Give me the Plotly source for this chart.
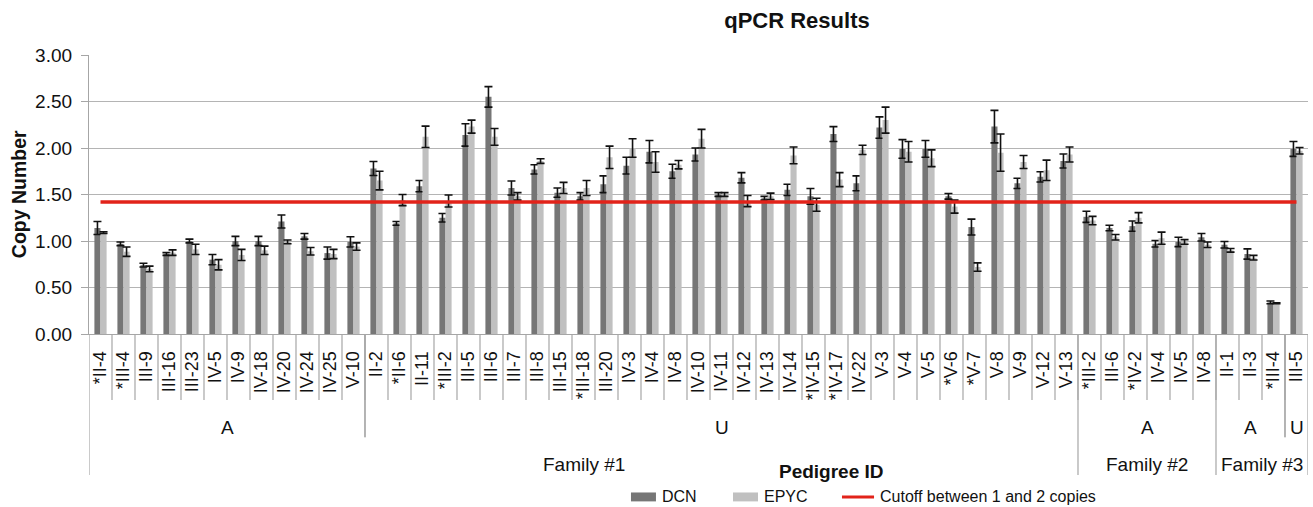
import plotly.graph_objects as go

# Pedigree IDs in plotting order
ids = [
    "*II-4", "*III-4", "III-9", "III-16", "III-23", "IV-5", "IV-9", "IV-18", "IV-20", "IV-24", "IV-25", "V-10",
    "II-2", "*II-6", "II-11", "*III-2", "III-5", "III-6", "III-7", "III-8", "III-15", "*III-18", "III-20",
    "IV-3", "IV-4", "IV-8", "IV-10", "IV-11", "IV-12", "IV-13", "IV-14", "*IV-15", "*IV-17", "IV-22",
    "V-3", "V-4", "V-5", "*V-6", "*V-7", "V-8", "V-9", "V-12", "V-13",
    "*III-2", "III-6", "*IV-2", "IV-4", "IV-5", "IV-8",
    "II-1", "II-3", "*III-4", "III-5",
]

# Affected / unaffected status and family membership of each ID
status = ["A"] * 12 + ["U"] * 31 + ["A"] * 6 + ["A"] * 3 + ["U"] * 1
family = ["Family #1"] * 43 + ["Family #2"] * 6 + ["Family #3"] * 4

# Copy number estimates and error bars
dcn = [
    1.14, 0.97, 0.74, 0.86, 1.00, 0.80, 1.00, 1.00, 1.21, 1.05, 0.87, 0.99,
    1.78, 1.19, 1.59, 1.25, 2.14, 2.55, 1.57, 1.77, 1.52, 1.48, 1.61, 1.81, 1.96, 1.75, 1.93, 1.50,
    1.68, 1.46, 1.55, 1.48, 2.15, 1.62, 2.22, 1.99, 1.99, 1.48, 1.15, 2.23, 1.62, 1.69, 1.86,
    1.26, 1.14, 1.16, 0.97, 0.99, 1.04,
    0.96, 0.86, 0.34, 1.99,
]
dcn_err = [
    0.07, 0.02, 0.02, 0.015, 0.02, 0.055, 0.05, 0.05, 0.07, 0.03, 0.065, 0.055,
    0.075, 0.02, 0.06, 0.045, 0.12, 0.11, 0.075, 0.05, 0.05, 0.04, 0.09, 0.09, 0.12, 0.075, 0.07, 0.02,
    0.055, 0.02, 0.06, 0.085, 0.08, 0.08, 0.115, 0.10, 0.09, 0.03, 0.085, 0.175, 0.055, 0.055, 0.075,
    0.06, 0.03, 0.055, 0.035, 0.05, 0.04,
    0.035, 0.055, 0.015, 0.08,
]
epyc = [
    1.09, 0.885, 0.70, 0.875, 0.91, 0.745, 0.85, 0.90, 0.99, 0.89, 0.86, 0.94,
    1.65, 1.44, 2.12, 1.43, 2.23, 2.12, 1.48, 1.86, 1.57, 1.57, 1.90, 2.00, 1.85, 1.82, 2.10, 1.50,
    1.43, 1.48, 1.92, 1.39, 1.66, 1.98, 2.30, 1.96, 1.89, 1.37, 0.72, 1.95, 1.85, 1.76, 1.93,
    1.22, 1.04, 1.25, 1.03, 0.99, 0.96,
    0.90, 0.82, 0.33, 1.97,
]
epyc_err = [
    0.01, 0.05, 0.03, 0.03, 0.055, 0.055, 0.06, 0.045, 0.02, 0.04, 0.05, 0.04,
    0.10, 0.06, 0.115, 0.065, 0.07, 0.09, 0.04, 0.025, 0.06, 0.08, 0.12, 0.10, 0.11, 0.045, 0.10, 0.02,
    0.06, 0.035, 0.09, 0.07, 0.075, 0.05, 0.14, 0.11, 0.09, 0.07, 0.045, 0.20, 0.07, 0.11, 0.08,
    0.045, 0.03, 0.055, 0.065, 0.025, 0.03,
    0.02, 0.025, 0.005, 0.035,
]

# Threshold separating one from two copies
cutoff = 1.42

y_ticks = [0.0, 0.5, 1.0, 1.5, 2.0, 2.5, 3.0]

FONT = "Liberation Sans, Arial, sans-serif"
INK = "#111111"
GRID = "#b4b4b4"
AXIS = "#a6a6a6"
DCN_COLOR = "#767676"
EPYC_COLOR = "#c0c0c0"
CUT_COLOR = "#e2231a"

n = len(ids)
pos = list(range(n))

fig = go.Figure()
err_style = dict(type="data", color=INK, thickness=1.6, width=4)
fig.add_trace(go.Bar(
    x=pos, y=dcn, name="DCN", marker=dict(color=DCN_COLOR, line=dict(width=0)),
    error_y=dict(array=dcn_err, **err_style), showlegend=False,
))
fig.add_trace(go.Bar(
    x=pos, y=epyc, name="EPYC", marker=dict(color=EPYC_COLOR, line=dict(width=0)),
    error_y=dict(array=epyc_err, **err_style), showlegend=False,
))
fig.add_trace(go.Scatter(
    x=pos, y=[cutoff] * n, mode="lines", name="Cutoff between 1 and 2 copies",
    line=dict(color=CUT_COLOR, width=3.5), showlegend=False,
))


def runs(labels):
    """Return (label, start, end) for each run of consecutive equal labels."""
    out = []
    start = 0
    for i in range(1, len(labels) + 1):
        if i == len(labels) or labels[i] != labels[start]:
            out.append((labels[start], start, i - 1))
            start = i
    return out


def label(x, y, text, size, xref="paper", **kw):
    return dict(x=x, y=y, xref=xref, yref="paper", text=text, showarrow=False,
                xanchor=kw.pop("xanchor", "center"), yanchor="middle",
                font=dict(size=size, color=INK, family=FONT), **kw)


# Paper-y levels of the hierarchical category axis
Y_SEP = -0.237
Y_STATUS_SEP = -0.37
Y_FAMILY_SEP = -0.505
Y_STATUS_TXT = -0.334
Y_FAMILY_TXT = -0.468

line_style = dict(color=AXIS, width=1.2)
shapes = []
# short separators between neighbouring IDs
for i in range(1, n):
    shapes.append(dict(type="line", xref="x", yref="paper", x0=i - 0.5, x1=i - 0.5,
                       y0=0, y1=Y_SEP, line=line_style))

annotations = []
status_key = [f + "|" + s for f, s in zip(family, status)]
fam_runs = runs(family)
fam_bounds = set()
for _, a, b in fam_runs:
    fam_bounds.add(a - 0.5)
    fam_bounds.add(b + 0.5)
for lbl, a, b in runs(status_key):
    annotations.append(label((a + b) / 2, Y_STATUS_TXT, lbl.split("|")[1], 19, xref="x"))
    for edge in (a - 0.5, b + 0.5):
        if edge not in fam_bounds:
            shapes.append(dict(type="line", xref="x", yref="paper", x0=edge, x1=edge,
                               y0=0, y1=Y_STATUS_SEP, line=line_style))
for lbl, a, b in fam_runs:
    annotations.append(label((a + b) / 2, Y_FAMILY_TXT, lbl, 19, xref="x"))
for edge in sorted(fam_bounds):
    shapes.append(dict(type="line", xref="x", yref="paper", x0=edge, x1=edge,
                       y0=0, y1=Y_FAMILY_SEP, line=line_style))

# axis titles
annotations.append(label(0.6095, -0.494, "<b>Pedigree ID</b>", 19))
annotations.append(label(-0.0577, 0.5, "<b>Copy Number</b>", 19.5, textangle=-90))

# legend row: swatch / line sample followed by its label
LEG_Y = -0.584
legend_items = [
    ("DCN", "bar", DCN_COLOR, 0.4446, 0.4651),
    ("EPYC", "bar", EPYC_COLOR, 0.5283, 0.5488),
    ("Cutoff between 1 and 2 copies", "line", CUT_COLOR, 0.6177, 0.6440),
]
for name, kind, color, x0, x1 in legend_items:
    if kind == "bar":
        shapes.append(dict(type="rect", xref="paper", yref="paper", x0=x0, x1=x1,
                           y0=LEG_Y - 0.016, y1=LEG_Y + 0.016,
                           fillcolor=color, line=dict(width=0)))
    else:
        shapes.append(dict(type="line", xref="paper", yref="paper", x0=x0, x1=x1,
                           y0=LEG_Y, y1=LEG_Y, line=dict(color=color, width=3)))
    annotations.append(label(x1 + 0.003, LEG_Y, name, 16, xanchor="left"))

fig.update_layout(
    width=1313, height=507,
    margin=dict(l=89, r=5, t=55, b=173),
    paper_bgcolor="white", plot_bgcolor="white",
    font=dict(family=FONT, color=INK),
    barmode="group", bargap=0.47, bargroupgap=0,
    title=dict(text="<b>qPCR Results</b>", x=0.607, xanchor="center",
               y=0.96, yanchor="middle", font=dict(size=22, family=FONT)),
    shapes=shapes, annotations=annotations,
    showlegend=False,
)
fig.update_xaxes(
    range=[-0.5, n - 0.5], tickmode="array", tickvals=pos, ticktext=ids,
    tickangle=-90, tickfont=dict(size=18, family=FONT, color=INK),
    showgrid=False, zeroline=False, showline=True, linecolor=AXIS, linewidth=1.2,
    ticks="outside", ticklen=9, tickcolor="rgba(0,0,0,0)", automargin=False,
)
fig.update_yaxes(
    range=[0, 3], tickmode="array", tickvals=y_ticks,
    ticktext=[f"{v:.2f}" for v in y_ticks],
    tickfont=dict(size=19, family=FONT, color=INK),
    showgrid=True, gridcolor=GRID, gridwidth=1.2, zeroline=False,
    showline=True, linecolor=AXIS, linewidth=1.2,
    ticks="outside", ticklen=7, tickcolor=AXIS, ticklabelstandoff=5, automargin=False,
)

fig.write_html("out.html")
